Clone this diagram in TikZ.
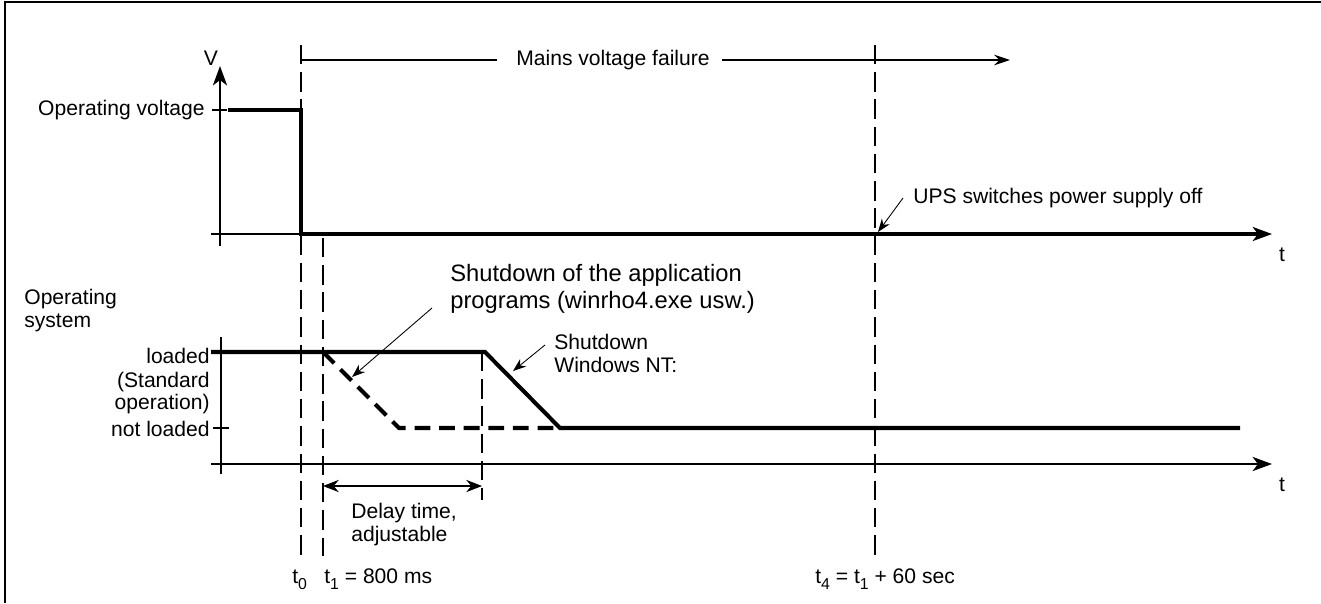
\documentclass[tikz,border=0pt]{standalone}
\usepackage{fontspec}
\setmainfont{Liberation Sans}
\usetikzlibrary{arrows.meta, positioning}

\newcommand{\tsub}[1]{\raisebox{-0.32em}{\fontsize{9}{9}\selectfont #1}}

\begin{document}
\begin{tikzpicture}[x=0.02cm, y=-0.02cm,
    axis/.style={line width=1.6pt, -{Stealth[length=11pt, width=8pt, inset=3pt]}},
    level/.style={line width=2.3pt, line join=miter},
    appdash/.style={line width=2.3pt, dash pattern=on 9pt off 5pt},
    guide/.style={line width=0.6pt, dash pattern=on 11pt off 4.5pt},
    tick/.style={line width=0.7pt},
    pointer/.style={line width=0.5pt, -{Stealth[length=7.5pt, width=5.5pt]}},
    lbl/.style={font=\fontsize{12}{13}\selectfont, inner sep=0pt},
    biglbl/.style={font=\fontsize{13.5}{15.3}\selectfont, inner sep=0pt, align=left}]

  \useasboundingbox (0,0) rectangle (1321,603);
  % Frame
  \draw[line width=1.2pt] (5,603) -- (5,2) -- (1321,2);

  % Time marks
  \coordinate (t0top) at (301,45);
  \coordinate (t0bot) at (301,556);
  \coordinate (t1top) at (323,238);
  \coordinate (t1bot) at (323,556);
  \coordinate (t4top) at (875,45);
  \coordinate (t4bot) at (875,556);
  \coordinate (dtop) at (482,352);
  \coordinate (dbot) at (482,500);
  \draw[guide] (t0top) -- (t0bot);
  \draw[guide] (t1top) -- (t1bot);
  \draw[guide] (t4top) -- (t4bot);
  \draw[guide] (dtop) -- (dbot);

  % Mains voltage failure
  \coordinate (mstart) at (301,60);
  \coordinate (mleft) at (497,60);
  \coordinate (mright) at (722,60);
  \coordinate (mend) at (1010,60);
  \node[lbl] (mains) at (613,60) {Mains voltage failure};
  \draw[line width=0.6pt] (mstart) -- (mleft);
  \draw[line width=0.6pt, -{Stealth[length=9pt, width=6pt]}] (mright) -- (mend);

  % Upper diagram: voltage
  \coordinate (Vbot) at (220,246);
  \coordinate (Vtop) at (220,66);
  \coordinate (Tul) at (211,234);
  \coordinate (Tur) at (1272,234);
  \draw[axis] (Vbot) -- (Vtop);
  \draw[axis] (Tul) -- (Tur);
  \node[lbl, anchor=base] (V) at (211,65) {V};
  \node[lbl, anchor=base] (tu) at (1282,261) {t};

  \coordinate (opl) at (212,110);
  \coordinate (opr) at (227,110);
  \draw[tick] (opl) -- (opr);
  \node[lbl, anchor=east] (opv) at (205,110) {Operating voltage};

  \coordinate (v1) at (228,110);
  \coordinate (v2) at (301,110);
  \coordinate (v3) at (301,234);
  \coordinate (v4) at (1258,234);
  \draw[level] (v1) -- (v2) -- (v3) -- (v4);

  \node[lbl, anchor=base west] (ups) at (913,203) {UPS switches power supply off};
  \coordinate (upsfrom) at (903,198);
  \coordinate (upsto) at (878,232);
  \draw[pointer] (upsfrom) -- (upsto);

  % Lower diagram: operating system
  \coordinate (Sbot) at (221,474);
  \coordinate (Stop) at (221,337);
  \coordinate (Tll) at (211,464);
  \coordinate (Tlr) at (1272,464);
  \draw[line width=1.6pt] (Sbot) -- (Stop);
  \draw[axis] (Tll) -- (Tlr);
  \node[lbl, anchor=base] (tl) at (1282,491) {t};

  \node[lbl, anchor=north west, align=left] (os) at (24,289) {Operating\\system};
  \node[lbl, anchor=east] (ld) at (210,356) {loaded};
  \node[lbl, anchor=east, align=right] (std) at (210,393) {(Standard\\operation)};
  \node[lbl, anchor=east] (nld) at (210,429) {not loaded};
  \coordinate (nll) at (213,428);
  \coordinate (nlr) at (229,428);
  \draw[tick] (nll) -- (nlr);

  \coordinate (w1) at (211,352);
  \coordinate (w2) at (485,352);
  \coordinate (w3) at (560,428);
  \coordinate (w4) at (1240,428);
  \draw[level] (w1) -- (w2) -- (w3) -- (w4);

  \coordinate (a1) at (323,352);
  \coordinate (a2) at (399,428);
  \coordinate (a3) at (560,428);
  \draw[appdash] (a1) -- (a2) -- (a3);

  \node[biglbl, anchor=north west] (app) at (450,264)
    {Shutdown of the application\\programs (winrho4.exe usw.)};
  \coordinate (appfrom) at (432,308);
  \coordinate (appto) at (352,377);
  \draw[pointer] (appfrom) -- (appto);

  \node[lbl, anchor=north west, align=left] (nt) at (554,334) {Shutdown\\Windows NT:};
  \coordinate (ntfrom) at (545,345);
  \coordinate (ntto) at (513,371);
  \draw[pointer] (ntfrom) -- (ntto);

  % Delay time
  \coordinate (dl) at (323,486);
  \coordinate (dr) at (482,486);
  \draw[line width=0.6pt, {Stealth[length=9pt, width=7pt]}-{Stealth[length=9pt, width=7pt]}] (dl) -- (dr);
  \node[lbl, anchor=north west, align=left] (delay) at (351,503) {Delay time,\\adjustable};

  % Time labels
  \node[lbl, anchor=base west] (lt0) at (292,583) {t\tsub{0}};
  \node[lbl, anchor=base west] (lt1) at (324,583) {t\tsub{1} = 800 ms};
  \node[lbl, anchor=base west] (lt4) at (815,583) {t\tsub{4} = t\tsub{1} + 60 sec};
\end{tikzpicture}
\end{document}
